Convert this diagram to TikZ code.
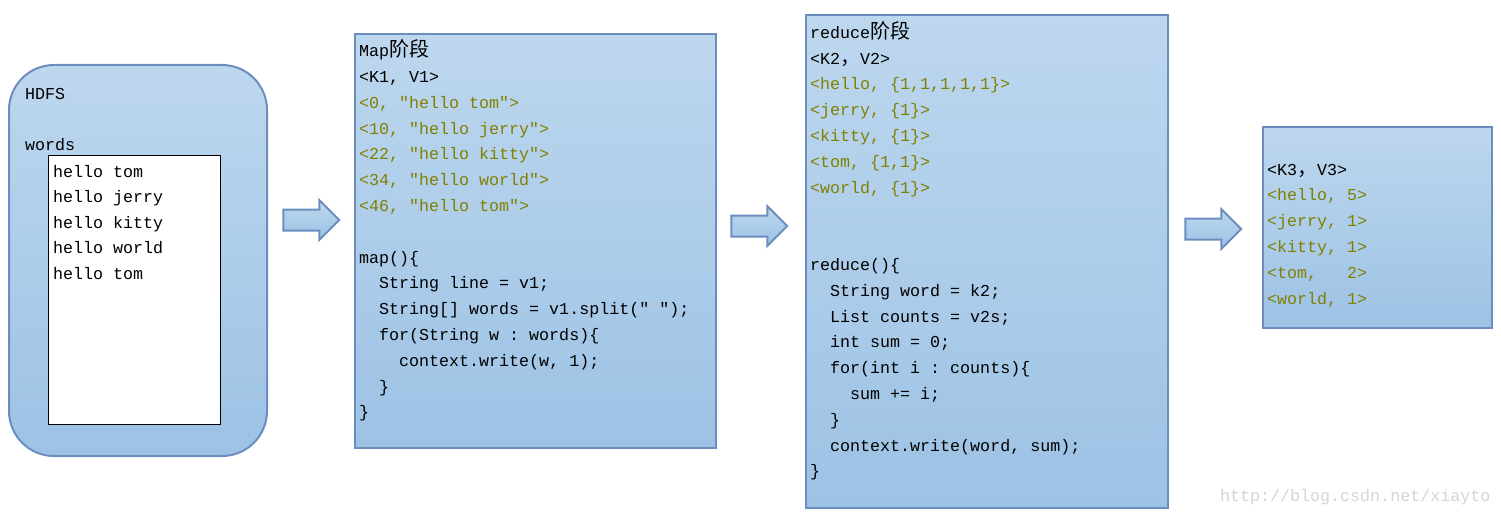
\documentclass[tikz,border=0pt]{standalone}
\usepackage{fontspec}
\setmonofont{Liberation Mono}
\newfontfamily\cjk[Scale=1.2]{Noto Sans CJK SC}
\usetikzlibrary{shapes.arrows}
\definecolor{boxtop}{RGB}{189,215,238}
\definecolor{boxbot}{RGB}{157,194,229}
\definecolor{boxline}{RGB}{108,142,191}
\definecolor{kvcol}{RGB}{128,128,0}
\definecolor{wmark}{RGB}{212,212,212}
\newcommand\kv{\color{kvcol}}
\newcommand\zh[1]{{\cjk #1}}

\begin{document}
\begin{tikzpicture}[x=1pt,y=-1pt,
  stage/.style={draw=boxline,line width=2pt,top color=boxtop,bottom color=boxbot,anchor=north west,inner sep=0},
  flow/.style={single arrow,draw=boxline,line width=2pt,top color=boxtop,bottom color=boxbot,
    minimum height=56pt,inner xsep=0,inner ysep=9.5pt,single arrow head extend=9.5pt},
  code/.style={anchor=base west,inner sep=0,font=\ttfamily\fontsize{16.67}{20}\selectfont}]

\useasboundingbox (0,0) rectangle (1501,516);

\node[stage,rounded corners=45pt,minimum width=258pt,minimum height=391pt] (hdfs) at (8,64) {};
\node[draw=black,fill=white,line width=1pt,anchor=north west,inner sep=0,
  minimum width=172pt,minimum height=269pt] (file) at (48,155) {};
\node[stage,minimum width=361pt,minimum height=414pt] (map) at (353.5,33) {};
\node[stage,minimum width=362pt,minimum height=493pt] (reduce) at (804.5,14) {};
\node[stage,minimum width=229pt,minimum height=201pt] (result) at (1261.5,126) {};

\node[flow] (arr1) at (306,220) {};
\node[flow] (arr2) at (754,226) {};
\node[flow] (arr3) at (1208,229) {};

\node[code] (hdfs-title) at (25,99.5) {HDFS};
\node[code] (hdfs-name) at (25,150.8) {words};
\foreach \ln [count=\i] in {{hello tom},{hello jerry},{hello kitty},{hello world},{hello tom}}
  \node[code] (file-\i) at (53,{177.4+25.5*(\i-1)}) {\ln};

\foreach \ln [count=\i from 0] in {
  {Map\zh{阶段}},
  {<K1, V1>},
  {\kv<0, "hello tom">},
  {\kv<10, "hello jerry">},
  {\kv<22, "hello kitty">},
  {\kv<34, "hello world">},
  {\kv<46, "hello tom">},
  {},
  {map()\{},
  {\ \ String line = v1;},
  {\ \ String[] words = v1.split(" ");},
  {\ \ for(String w : words)\{},
  {\ \ \ \ context.write(w, 1);},
  {\ \ \}},
  {\}}}
  \node[code] (map-\i) at (359,{56.7+25.8*\i}) {\ln};

\foreach \ln [count=\i from 0] in {
  {reduce\zh{阶段}},
  {<K2\zh{，}V2>},
  {\kv<hello, \{1,1,1,1,1\}>},
  {\kv<jerry, \{1\}>},
  {\kv<kitty, \{1\}>},
  {\kv<tom, \{1,1\}>},
  {\kv<world, \{1\}>},
  {},
  {},
  {reduce()\{},
  {\ \ String word = k2;},
  {\ \ List counts = v2s;},
  {\ \ int sum = 0;},
  {\ \ for(int i : counts)\{},
  {\ \ \ \ sum += i;},
  {\ \ \}},
  {\ \ context.write(word, sum);},
  {\}}}
  \node[code] (reduce-\i) at (810,{38.3+25.8*\i}) {\ln};

\foreach \ln [count=\i from 0] in {
  {<K3\zh{，}V3>},
  {\kv<hello, 5>},
  {\kv<jerry, 1>},
  {\kv<kitty, 1>},
  {\kv<tom,\ \ \ 2>},
  {\kv<world, 1>}}
  \node[code] (result-\i) at (1267,{175+25.8*\i}) {\ln};

\node[code,text=wmark] (mark) at (1220,501.7) {http://blog.csdn.net/xiayto};
\end{tikzpicture}
\end{document}
